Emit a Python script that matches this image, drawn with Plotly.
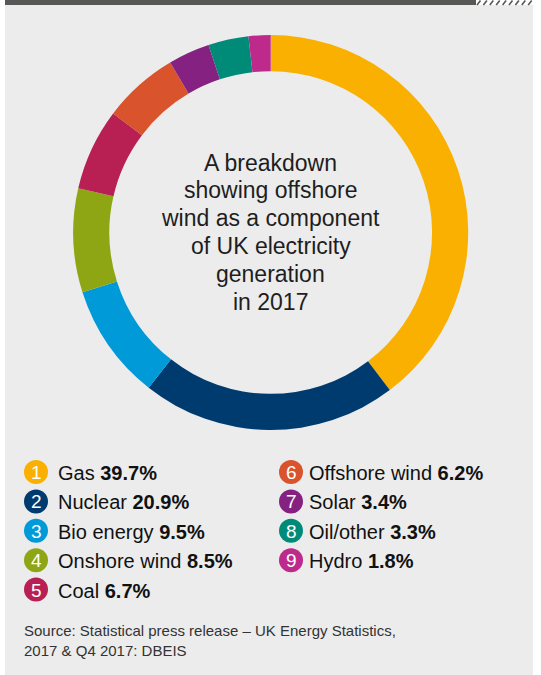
import plotly.graph_objects as go

# ---- data ----
sources = ["Gas", "Nuclear", "Bio energy", "Onshore wind", "Coal",
           "Offshore wind", "Solar", "Oil/other", "Hydro"]
shares = [39.7, 20.9, 9.5, 8.5, 6.7, 6.2, 3.4, 3.3, 1.8]
colors = ["#F9B000", "#003B6F", "#009AD8", "#8FA614", "#B81F52",
          "#D9542D", "#852181", "#008B79", "#BE2A8B"]
center_text = ["A breakdown", "showing offshore", "wind as a component",
               "of UK electricity", "generation", "in 2017"]
source_lines = ["Source: Statistical press release \u2013 UK Energy Statistics,",
                "2017 &amp; Q4 2017: DBEIS"]

W, H = 541, 675
FONT = "Liberation Sans, Arial, Helvetica, sans-serif"


def px(x):
    return x / W


def py(y):
    return 1 - y / H


fig = go.Figure()

# donut
cx, cy, R = 270.7, 232.5, 197.5
fig.add_trace(go.Pie(
    labels=sources, values=shares, sort=False, direction="clockwise",
    rotation=0, hole=0.817,
    marker=dict(colors=colors, line=dict(width=0)),
    textinfo="none", showlegend=False,
    domain=dict(x=[px(cx - R), px(cx + R)], y=[py(cy + R), py(cy - R)]),
))

shapes = []
annotations = []

# background panel and top bar
shapes.append(dict(type="rect", xref="paper", yref="paper", layer="below",
                   x0=px(5), x1=px(533), y0=py(675), y1=py(5),
                   fillcolor="#ECECEC", line=dict(width=0)))
shapes.append(dict(type="rect", xref="paper", yref="paper", layer="below",
                   x0=px(5), x1=px(476), y0=py(5), y1=py(0),
                   fillcolor="#575756", line=dict(width=0)))
for i in range(9):
    x0 = 477 + i * 6.4
    shapes.append(dict(type="line", xref="paper", yref="paper",
                       x0=px(x0), x1=px(x0 + 3.5), y0=py(5), y1=py(0.5),
                       line=dict(color="#575756", width=1.6)))

# centre text, one line at a time
line_y0, line_dy = 162.7, 27.8
for k, line in enumerate(center_text):
    annotations.append(dict(
        xref="paper", yref="paper", x=px(cx), y=py(line_y0 + k * line_dy),
        showarrow=False, text=line, align="center",
        font=dict(family=FONT, size=23, color="#1e1e1e"),
        xanchor="center", yanchor="middle"))

# legend
row_y0, row_dy = 472.0, 29.4
col_x = [36.0, 291.0]
text_dx = [19.5, 16.0]
r = 12.0
for i, (name, val, col) in enumerate(zip(sources, shares, colors)):
    c = 0 if i < 5 else 1
    row = i if i < 5 else i - 5
    x = col_x[c]
    y = row_y0 + row * row_dy
    shapes.append(dict(type="circle", xref="paper", yref="paper",
                       x0=px(x - r), x1=px(x + r), y0=py(y + r), y1=py(y - r),
                       fillcolor=col, line=dict(width=0)))
    annotations.append(dict(xref="paper", yref="paper", x=px(x), y=py(y + 0.5),
                            text=str(i + 1), showarrow=False,
                            xanchor="center", yanchor="middle",
                            font=dict(family=FONT, size=19, color="white")))
    annotations.append(dict(xref="paper", yref="paper", x=px(x + text_dx[c]), y=py(y + 1),
                            text=f"{name} <b>{val:.1f}%</b>", showarrow=False,
                            xanchor="left", yanchor="middle",
                            font=dict(family=FONT, size=20, color="#111111")))

# source
for j, line in enumerate(source_lines):
    annotations.append(dict(xref="paper", yref="paper", x=px(22), y=py(630.5 + j * 19.5),
                            text=line, showarrow=False, xanchor="left",
                            yanchor="middle",
                            font=dict(family=FONT, size=15, color="#333333")))

fig.update_layout(
    width=W, height=H, margin=dict(l=0, r=0, t=0, b=0),
    paper_bgcolor="white", plot_bgcolor="white",
    shapes=shapes, annotations=annotations,
)

fig.write_html("out.html", config={"displayModeBar": False},
               post_script="document.body.style.margin='0px';")
